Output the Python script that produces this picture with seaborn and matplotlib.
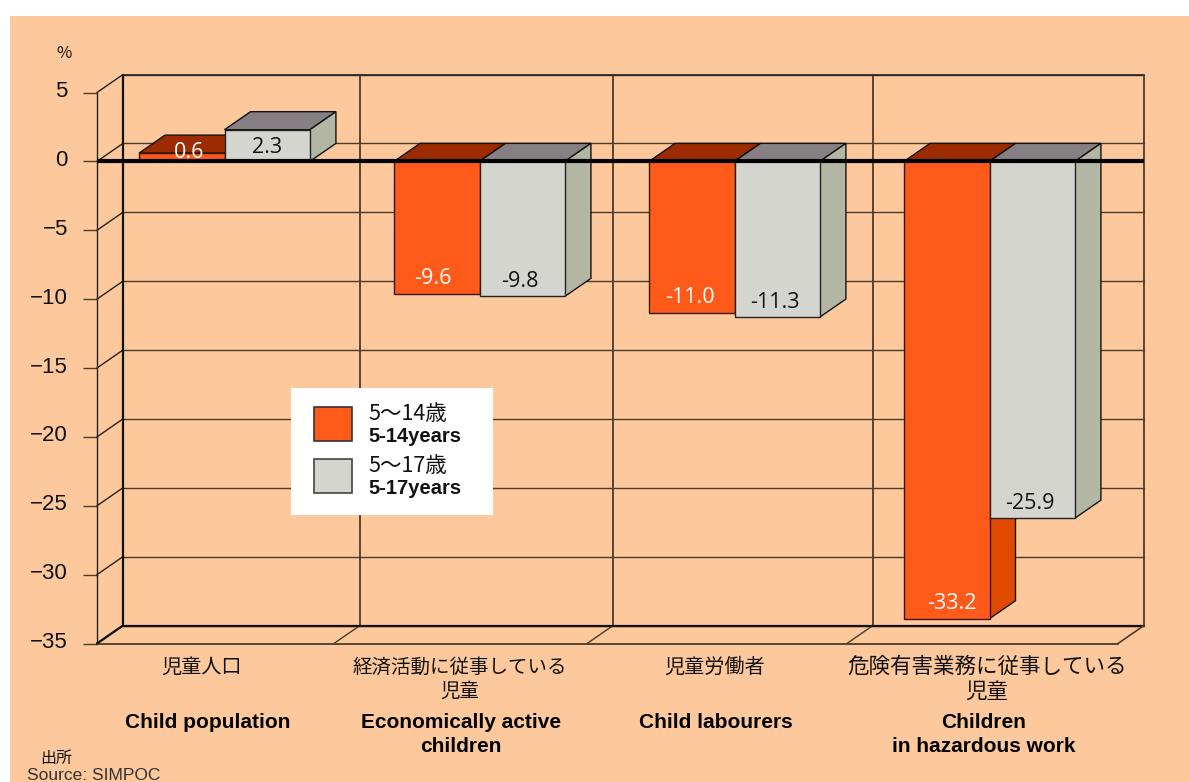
import pandas as pd
import matplotlib
matplotlib.use("Agg")
import matplotlib.pyplot as plt
import seaborn as sns
from matplotlib.patches import Polygon, Rectangle
from matplotlib.transforms import Affine2D, ScaledTranslation

# values
categories = ["Child population", "Economically active children",
              "Child labourers", "Children in hazardous work"]
age_5_14 = [0.6, -9.6, -11.0, -33.2]
age_5_17 = [2.3, -9.8, -11.3, -25.9]
series_names = ["5-14", "5-17"]
y_ticks = [5, 0, -5, -10, -15, -20, -25, -30, -35]
y_tick_labels = ["5", "0", "−5", "−10", "−15", "−20", "−25", "−30", "−35"]
labels_jp = ["児童人口", "経済活動に従事している\n児童", "児童労働者", "危険有害業務に従事している\n児童"]
labels_en = ["Child population", "Economically active\nchildren", "Child labourers", "Children\nin hazardous work"]

W, H = 1189, 782
BG = "#fdc89b"
ORANGE = dict(front="#ff5a1a", top="#9c2c00", side="#e04a00", edge="#3a1500")
GREY = dict(front="#d5d5d0", top="#868084", side="#b4b6a4", edge="#222222")
DX, DY = 26 / 255, 18 / 13.775  # depth of the fake 3d, in data units
DIVIDERS = [0.429, 1.422, 2.441]
WALL = "#4d3b2a"

JP = ["Noto Sans CJK JP", "DejaVu Sans"]
sns.set_theme(style="white")
plt.rcParams["font.family"] = ["Liberation Sans", "Noto Sans CJK JP", "DejaVu Sans"]

df = pd.DataFrame({
    "category": categories * 2,
    "age": [series_names[0]] * 4 + [series_names[1]] * 4,
    "value": age_5_14 + age_5_17,
})

fig = plt.figure(figsize=(W / 100, H / 100), dpi=100, facecolor="white")
px = Affine2D().scale(1 / W, -1 / H).translate(0, 1) + fig.transFigure

# peach panel behind everything
fig.add_artist(Rectangle((10, 16), W - 10, H - 16, transform=px, fc=BG, ec="none", zorder=-5))

ax = fig.add_axes([97 / W, (H - 643.5) / H, 1020 / W, 551 / H])
ax.patch.set_alpha(0)

sns.barplot(data=df, x="category", y="value", hue="age", ax=ax, width=0.67, gap=0,
            palette=[ORANGE["front"], GREY["front"]], saturation=1, legend=False,
            edgecolor="black", linewidth=1)
ax.set_xlim(-0.5, 3.5)
ax.set_ylim(-35, 5)
ax.set_xlabel("")
ax.set_ylabel("")
ax.set_xticks([])
ax.set_yticks(y_ticks)
ax.set_yticklabels(y_tick_labels, fontsize=16, color="#111111")
ax.tick_params(axis="y", left=True, length=10, width=1, color=WALL, pad=11)
for t in ax.get_yticklabels():
    t.set_transform(t.get_transform() + ScaledTranslation(0, 2.5 / 72, fig.dpi_scale_trans))
sns.despine(ax=ax, left=True, bottom=True, top=True, right=True)

# walls and grid
right = 3.5 + DX + 1 / 255
for y in y_ticks:
    ax.plot([-0.5 + DX, right], [y + DY, y + DY], color=WALL, lw=1, zorder=1, clip_on=False)
    ax.plot([-0.5, -0.5 + DX], [y, y + DY], color="#222222", lw=1, zorder=1, clip_on=False)
for x in DIVIDERS:
    ax.plot([x + DX, x + DX], [-35 + DY, 5 + DY], color=WALL, lw=1.3, zorder=1, clip_on=False)
    ax.plot([x, x + DX], [-35, -35 + DY], color=WALL, lw=1, zorder=1, clip_on=False)
ax.plot([-0.5, -0.5], [-35, 5], color="#222222", lw=1, zorder=1, clip_on=False)
ax.plot([-0.5 + DX] * 2, [-35 + DY, 5 + DY], color="#111111", lw=1.6, zorder=1, clip_on=False)
ax.plot([-0.5 + DX, right], [5 + DY, 5 + DY], color="#222222", lw=1.2, zorder=1, clip_on=False)
ax.plot([-0.5 + DX, right], [-35 + DY, -35 + DY], color="#111111", lw=1.6, zorder=1, clip_on=False)
ax.plot([right, right], [-35 + DY, 5 + DY], color=WALL, lw=1.3, zorder=1, clip_on=False)
ax.plot([-0.5, 3.5 + 1 / 255], [-35, -35], color=WALL, lw=1.3, zorder=1, clip_on=False)
ax.plot([-0.5, -0.5 + DX], [-35, -35 + DY], color="#111111", lw=1.6, zorder=1, clip_on=False)
ax.plot([3.5 + 1 / 255, right], [-35, -35 + DY], color=WALL, lw=1.2, zorder=1, clip_on=False)

# top and side faces built from the seaborn bars
label_nudge = [[7, -4, -2, 5], [0, -2, -2, -2]]
label_colors = ["white", "#111111"]
styles = [ORANGE, GREY]
for i, bars in enumerate(ax.containers):
    base_z = 2 + i
    for j, bar in enumerate(bars):
        x0 = bar.get_x()
        x1 = x0 + bar.get_width()
        v = bar.get_height()
        top, bottom = max(v, 0), min(v, 0)
        st = styles[i]
        bar.set_zorder(base_z + 0.5)
        bar.set_edgecolor(st["edge"])
        ax.add_patch(Polygon([(x0, top), (x1, top), (x1 + DX, top + DY), (x0 + DX, top + DY)],
                             fc=st["top"], ec="#111111", lw=1, zorder=base_z, clip_on=False))
        ax.add_patch(Polygon([(x1, top), (x1 + DX, top + DY), (x1 + DX, bottom + DY), (x1, bottom)],
                             fc=st["side"], ec="#111111", lw=1, zorder=base_z, clip_on=False))
        xc = (x0 + x1) / 2
        if v > 0:
            xy, yoff = (xc, max(v / 2, 0.8)), -2
        else:
            xy, yoff = (xc, v), 15
        ax.annotate(f"{v:.1f}", xy, xytext=(label_nudge[i][j] * 0.72, yoff * 0.72),
                    textcoords="offset points", ha="center", va="center", fontsize=15.5,
                    family="Open Sans", color=label_colors[i], zorder=8)

# heavy zero line
ax.plot([-0.5, right], [0, 0], color="black", lw=3, zorder=6, clip_on=False, solid_capstyle="butt")

# axis unit
fig.text(64, 53, "%", transform=px, ha="center", va="center", fontsize=12, family=JP, color="#111111")

# category labels
jp_x = [202, 460, 715, 987]
jp_y = [667, 679, 667, 679]
jp_size = [14.5, 14, 14.5, 15.5]
en_x = [208, 461, 716, 984]
en_y = [723, 734.5, 723, 734.5]
for k in range(4):
    fig.text(jp_x[k], jp_y[k], labels_jp[k], transform=px, ha="center", va="center",
             fontsize=jp_size[k], family=JP, color="#111111", linespacing=1.2)
    fig.text(en_x[k], en_y[k], labels_en[k], transform=px, ha="center", va="center",
             fontsize=15, fontweight="bold", color="black", linespacing=1.3)

# legend box
fig.add_artist(Rectangle((291, 388), 202, 127, transform=px, fc="white", ec="none", zorder=4))
fig.add_artist(Rectangle((314, 407), 38, 34, transform=px, fc=ORANGE["front"], ec="#333333", lw=1.2, zorder=5))
fig.add_artist(Rectangle((314, 459), 38, 34, transform=px, fc=GREY["front"], ec="#444444", lw=1.2, zorder=5))
for y, s, w in [(414, "5〜14歳", "normal"), (437, "5-14years", "bold"),
                (466, "5〜17歳", "normal"), (489, "5-17years", "bold")]:
    fig.text(368, y, s, transform=px, ha="left", va="center", fontweight=w,
             fontsize=15.5 if w == "normal" else 14.5,
             family=JP if w == "normal" else ["Liberation Sans"], color="#111111", zorder=6)

# source
fig.text(56, 758, "出所", transform=px, ha="center", va="center", fontsize=11.5, family=JP, color="#111111")
fig.text(27, 775, "Source: SIMPOC", transform=px, ha="left", va="center", fontsize=12.5, color="#333333")

fig.savefig("out.png", dpi=100)
